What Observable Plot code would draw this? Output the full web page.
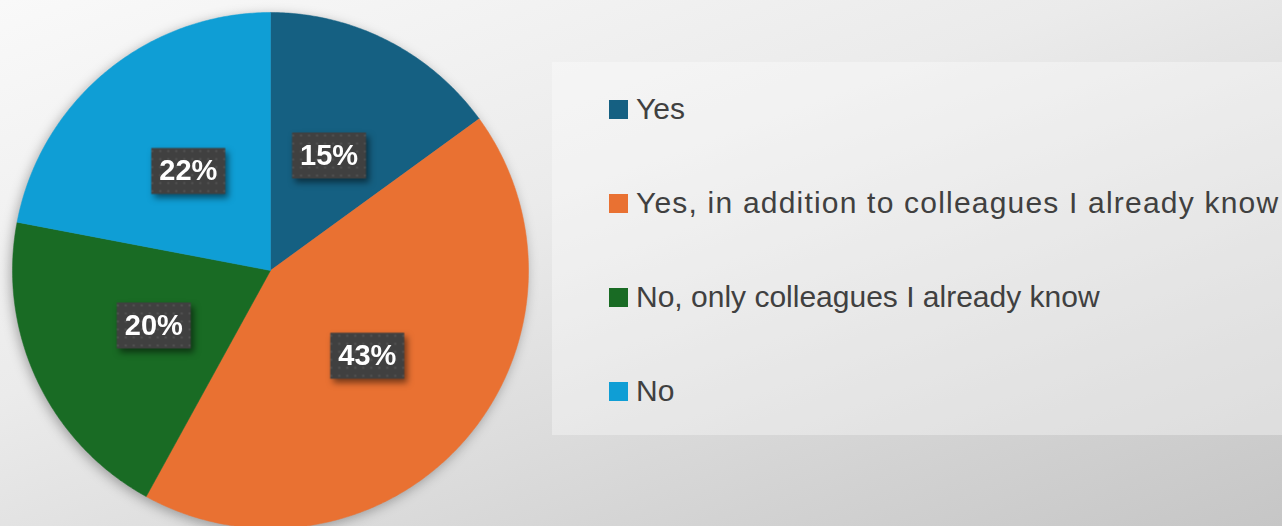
<!DOCTYPE html>
<html><head><meta charset="utf-8">
<script src="https://cdn.jsdelivr.net/npm/d3@7"></script>
<script src="https://cdn.jsdelivr.net/npm/@observablehq/plot@0.6"></script>
<style>
body{margin:0;}
#wrap{position:relative;width:1282px;height:526px;overflow:hidden;background:linear-gradient(160deg,#f9f9f9 0%,#ebebeb 40%,#d2d2d2 80%,#c6c6c6 100%);font-family:"Liberation Sans",Arial,sans-serif;}
#chart{position:absolute;left:0;top:0;}
#legend{position:absolute;left:552px;top:62px;width:730px;height:373px;background:rgba(255,255,255,0.35);}
.item{position:absolute;left:57px;height:40px;display:flex;align-items:center;font-size:30px;color:#404040;white-space:nowrap;}
.item.wide{letter-spacing:1.2px;}
.sw{width:19px;height:19px;margin-right:8px;flex:none;}
</style></head>
<body><div id="wrap"><div id="chart"></div><div id="legend"></div></div>
<script>
const categories = ["Yes", "Yes, in addition to colleagues I already know", "No, only colleagues I already know", "No"];
const values = [15, 43, 20, 22];
const colors = ["#156082", "#E97132", "#196B24", "#0F9ED5"];

const total = d3.sum(values);
let acc = 0;
const slices = categories.map((c, i) => {
  const a0 = acc / total * 2 * Math.PI; acc += values[i];
  const a1 = acc / total * 2 * Math.PI;
  return {c, v: values[i], a0, a1};
});
const piePts = slices.flatMap(s => {
  const n = Math.max(2, Math.ceil((s.a1 - s.a0) / 0.01));
  const pts = [{c: s.c, x: 0, y: 0}];
  for (let k = 0; k <= n; k++) {
    const a = s.a0 + (s.a1 - s.a0) * k / n;
    pts.push({c: s.c, x: Math.sin(a), y: -Math.cos(a)});
  }
  pts.push({c: s.c, x: 0, y: 0});
  return pts;
});
const labels = slices.map(s => {
  const m = (s.a0 + s.a1) / 2;
  return {c: s.c, text: `${s.v}%`, x: 0.5 * Math.sin(m), y: -0.5 * Math.cos(m)};
});
const boxSymbol = {draw(ctx) { ctx.rect(-37, -23, 74, 46); }};

const plot = Plot.plot({
  width: 1282, height: 526,
  x: {domain: [-1, 1], range: [12, 528], axis: null},
  y: {domain: [-1, 1], range: [12, 528], axis: null},
  color: {domain: categories, range: colors},
  style: {background: "transparent", overflow: "visible"},
  marks: [
    Plot.line(piePts, {x: "x", y: "y", z: "c", fill: "c", stroke: "c", strokeWidth: 0.5}),
    Plot.dot(labels, {x: "x", y: "y", r: 5, symbol: boxSymbol, fill: "#404040"}),
    Plot.text(labels, {x: "x", y: "y", text: "text", fill: "white", fontSize: 29, fontWeight: "bold", fontFamily: "Liberation Sans, Arial, sans-serif"})
  ]
});
document.getElementById("chart").appendChild(plot);

const svg = d3.select(plot);
const defs = svg.insert("defs", ":first-child");
const pat = defs.append("pattern").attr("id", "dots").attr("width", 8).attr("height", 8).attr("patternUnits", "userSpaceOnUse");
pat.append("rect").attr("width", 8).attr("height", 8).attr("fill", "#404040");
pat.append("circle").attr("cx", 4).attr("cy", 4).attr("r", 1.1).attr("fill", "#585858");
svg.select('g[aria-label="line"]').style("filter", "drop-shadow(-2px 3px 6px rgba(0,0,0,0.3))");
const dg = svg.select('g[aria-label="dot"]');
dg.attr("fill", "url(#dots)").style("filter", "drop-shadow(3px 4px 3px rgba(0,0,0,0.5))");
dg.selectAll("path").attr("fill", "url(#dots)");

const legend = d3.select("#legend");
categories.forEach((c, i) => {
  const it = legend.append("div").attr("class", "item" + (i === 1 ? " wide" : "")).style("top", (27 + i * 94) + "px");
  it.append("div").attr("class", "sw").style("background", colors[i]);
  it.append("span").text(c);
});
</script>
</body></html>
